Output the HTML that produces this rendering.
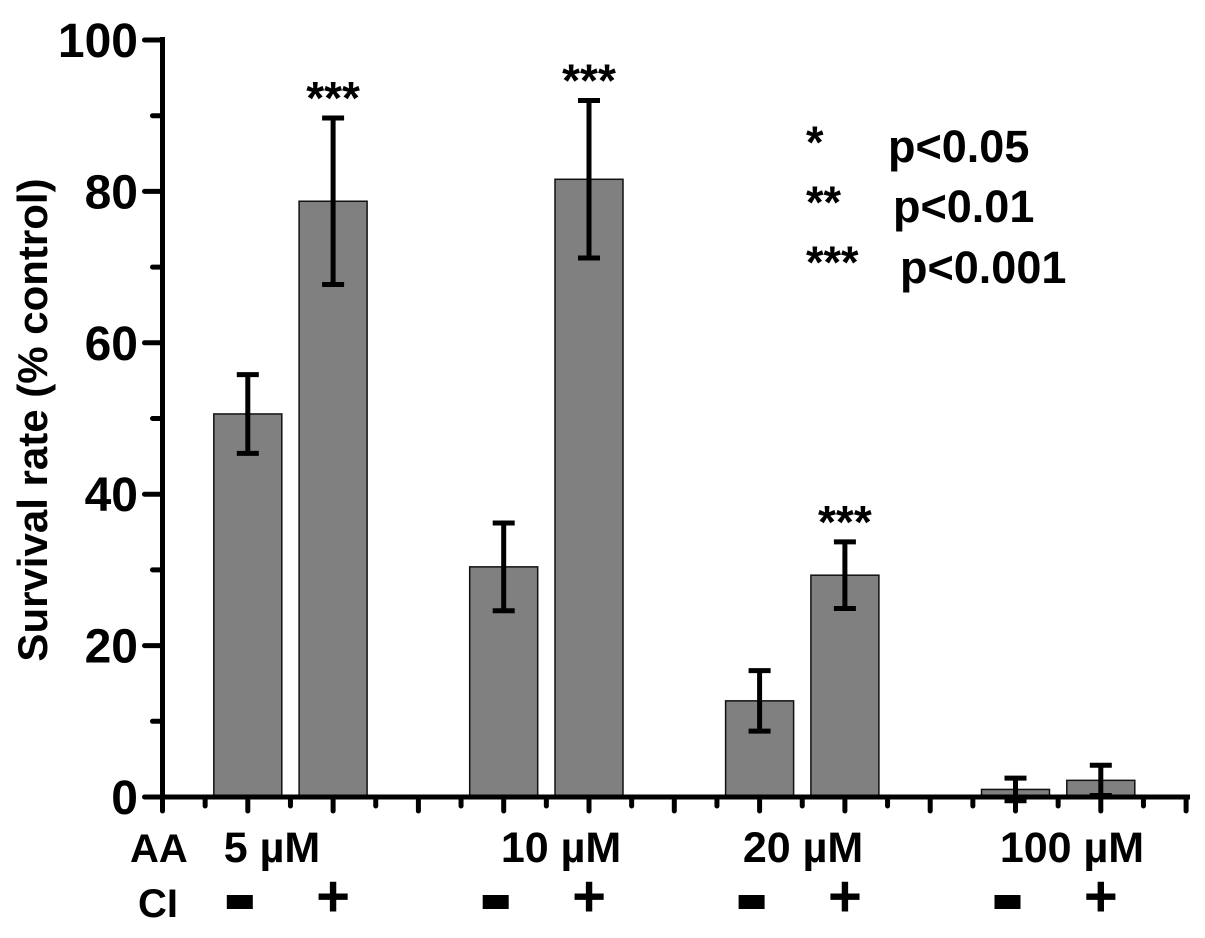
<!DOCTYPE html>
<html><head><meta charset="utf-8"><style>
body{margin:0;background:#fff;}
svg{display:block;font-family:"Liberation Sans",Arial,sans-serif;font-weight:bold;}
</style></head><body>
<svg id="chart" width="1205" height="938" viewBox="0 0 1205 938">
<g id="marks"></g>
<text transform="translate(47,420) rotate(-90)" text-anchor="middle" font-size="42">Survival rate (% control)</text>
<g font-size="45">
<text x="806" y="158">*</text><text x="888" y="162">p&lt;0.05</text>
<text x="806" y="218">**</text><text x="893" y="222">p&lt;0.01</text>
<text x="806" y="278">***</text><text x="900" y="283">p&lt;0.001</text>
</g>
<text x="130" y="862" font-size="40">AA</text>
<text x="138" y="917" font-size="40">CI</text>
</svg>
<script>
const categories=["5 µM -","5 µM +","10 µM -","10 µM +","20 µM -","20 µM +","100 µM -","100 µM +"];
const slots=[1,2,4,5,7,8,10,11];
const values=[50.6,78.7,30.4,81.6,12.7,29.3,1.0,2.2];
const errors=[5.2,11.0,5.8,10.4,4.0,4.4,1.5,2.0];
const stars=["","***","","***","","***","",""];
const yTicks=[0,20,40,60,80,100];
const concLabels=["5 µM","10 µM","20 µM","100 µM"];
const ciLabels=["-","+","-","+","-","+","-","+"];
const NS="http://www.w3.org/2000/svg";
const g=document.getElementById("marks");
const y0=797,ppu=7.57,x0=162.5,step=85.3,bw=68;
const Y=v=>y0-v*ppu, X=s=>x0+s*step;
function mk(t,a){const e=document.createElementNS(NS,t);for(const k in a)e.setAttribute(k,a[k]);g.appendChild(e);return e;}
values.forEach((v,i)=>{
 const cx=X(slots[i]);
 const r=mk("rect",{x:cx-bw/2,y:Y(v),width:bw,height:y0-Y(v),fill:"#808080",stroke:"#111","stroke-width":1.5});
 
 
 const e=errors[i];
 const p=mk("path",{d:`M${cx},${Y(v+e)}V${Y(v-e)}M${cx-11},${Y(v+e)}h22M${cx-11},${Y(v-e)}h22`,stroke:"#000","stroke-width":5,fill:"none"});
 
 
 if(stars[i]){const t=mk("text",{x:cx,y:Y(v+e)-4,"text-anchor":"middle","font-size":46});t.textContent=stars[i];
 
 }
 let c;
 if(ciLabels[i]=="-"){
  c=mk("rect",{x:cx-21,y:895,width:26,height:14,fill:"#000"});
 } else {
  c=mk("text",{x:cx,y:916,"text-anchor":"middle","font-size":58});
  c.textContent="+";
 }
 
 
});
const concX=[272,561,803,1072];
concLabels.forEach((s,i)=>{const t=mk("text",{x:concX[i],y:862,"text-anchor":"middle","font-size":43});t.textContent=s;
 
 });
const ax=mk("path",{d:`M${x0},${Y(100)-3}V${y0+2}M${x0-18},${y0}H1190`,stroke:"#000","stroke-width":5,fill:"none"});


let d="";
for(let v=0;v<=100;v+=10){d+=`M${x0},${Y(v)}h${v%20==0?-18:-10}`;}
for(let s=0;s<=12;s++){d+=`M${X(s)},${y0}v14M${X(s)+step/2},${y0}v9`;}
const tk=mk("path",{d:d,stroke:"#000","stroke-width":5,fill:"none","stroke-linecap":"round"});


yTicks.forEach(v=>{const t=mk("text",{x:138,y:Y(v)+17,"text-anchor":"end","font-size":48});t.textContent=v;
 
 });
</script>
</body></html>
